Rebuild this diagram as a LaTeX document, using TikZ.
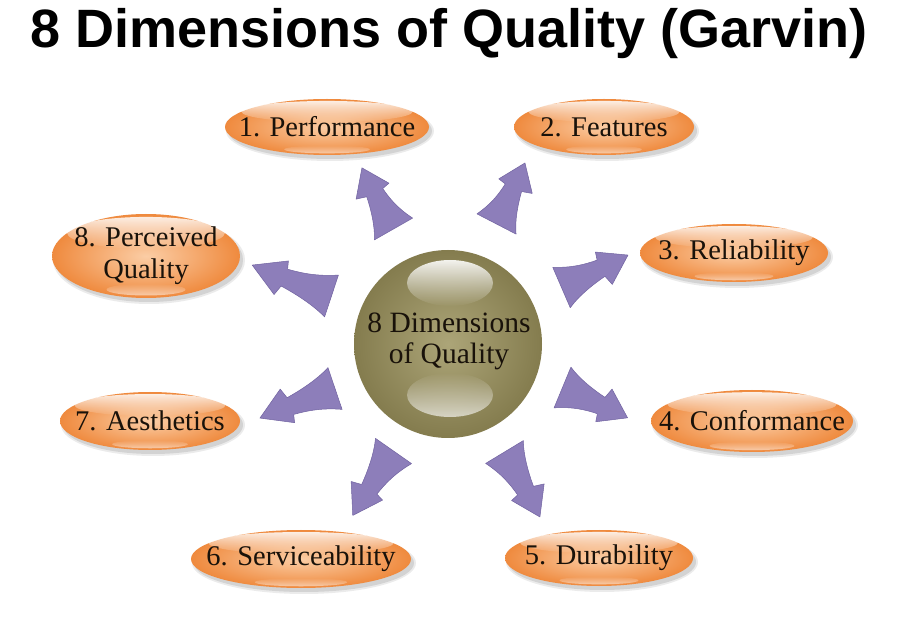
\documentclass[tikz,border=0pt]{standalone}
\usepackage{fontspec}
\setmainfont{Liberation Serif}
\newfontfamily\titlefont{Liberation Sans}
\usetikzlibrary{shapes.geometric,fadings}
\definecolor{ORL}{RGB}{251,205,165}
\definecolor{ORD}{RGB}{239,138,62}
\definecolor{OLL}{RGB}{172,165,120}
\definecolor{OLD}{RGB}{132,124,78}
\definecolor{ARF}{RGB}{141,126,186}
\definecolor{ARD}{RGB}{112,98,160}
\definecolor{TXT}{RGB}{25,18,10}
\tikzset{
  arrowfill/.style={fill=ARF, draw=ARD, line width=0.5pt, line join=round},
  elltext/.style={font=\fontsize{28.5}{32}\selectfont, text=TXT, align=center, inner sep=0pt},
}
% name, x, y, angle, xscale, yscale
\newcommand{\qarrow}[6]{%
  \coordinate (#1) at (#2,#3);
  \begin{scope}[shift={(#1)}, rotate=#4, xscale=#5, yscale=#6]
    \path[arrowfill] (1,22) .. controls (18,13) and (31,10.5) .. (44,9) -- (46,17) -- (74,0)
      -- (47,-19.5) -- (44,-9) .. controls (30,-11) and (12,-15) .. (-1,-22) -- cycle;
  \end{scope}}
% name, x, y, rx, ry, text
\newcommand{\qell}[6]{%
  \fill[black, opacity=0.08] (#2+3,#3-4) ellipse [x radius=#4+2, y radius=#5+2];
  \fill[black, opacity=0.10] (#2+3,#3-4) ellipse [x radius=#4, y radius=#5];
  \shade[inner color=ORL, outer color=ORD] (#2,#3) ellipse [x radius=#4, y radius=#5];
  \fill[white, opacity=0.85, path fading=south] (#2,#3+0.55*#5) ellipse [x radius=0.84*#4, y radius=0.38*#5];
  \fill[white, opacity=0.55, path fading=north] (#2,#3-0.8*#5) ellipse [x radius=0.42*#4, y radius=0.14*#5];
  \node[elltext] (#1) at (#2,#3) {#6};}
\begin{document}
\begin{tikzpicture}[x=1pt,y=1pt]
\useasboundingbox (0,0) rectangle (922,622);
\fill[white] (0,0) rectangle (922,622);

\node[font=\titlefont\bfseries\fontsize{54}{60}\selectfont, anchor=base] (title) at (449,574) {8 Dimensions of Quality (Garvin)};

% hub
\shade[inner color=OLL, outer color=OLD] (448,278) circle [radius=94];
\fill[white, opacity=0.9, path fading=south] (450,339) ellipse [x radius=43, y radius=23];
\fill[white, opacity=0.65, path fading=north] (450,227) ellipse [x radius=43, y radius=22];
\node[font=\fontsize{29.5}{31}\selectfont, align=center, text=TXT] (hub) at (449,281) {8 Dimensions\\of Quality};

% arrows
\qarrow{a1}{393.5}{393}{117.3}{0.93}{-1}
\qarrow{a2}{496.5}{398}{65}{0.91}{1}
\qarrow{a3}{561.5}{334.5}{26}{1}{1}
\qarrow{a4}{562.5}{234.5}{-25}{0.97}{-1}
\qarrow{a5}{504.5}{170}{-61.4}{1}{-1}
\qarrow{a6}{393.5}{171}{237.7}{1.03}{1}
\qarrow{a7}{335}{233.5}{201.5}{1.09}{1}
\qarrow{a8}{331.5}{326}{158.7}{1.15}{-1}

% ellipses
\qell{e1}{327}{495}{102}{28}{1. Performance}
\qell{e2}{604}{495}{90}{28}{2. Features}
\qell{e3}{734}{369}{94}{29}{3. Reliability}
\qell{e4}{752}{201}{101}{31}{4. Conformance}
\qell{e5}{599}{64}{94}{28}{5. Durability}
\qell{e6}{301}{63}{110}{29}{6. Serviceability}
\qell{e7}{150}{201}{90}{29}{7. Aesthetics}
\qell{e8}{146}{366}{94}{42}{8. Perceived\\Quality}
\end{tikzpicture}
\end{document}
